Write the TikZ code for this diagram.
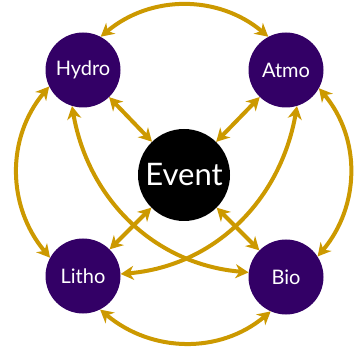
\documentclass[tikz,border=0pt]{standalone}
\usepackage{fontspec}
\setmainfont{Lato}
\usetikzlibrary{shapes.geometric, arrows.meta}
\definecolor{gold}{RGB}{204,153,0}
\definecolor{grape}{RGB}{51,0,102}
\tikzstyle{sphere} = [circle, minimum size=75pt, inner sep=0pt, fill=grape, text=white, font=\fontsize{20}{22}\selectfont]
\tikzstyle{hub} = [circle, minimum size=92pt, inner sep=0pt, fill=black, text=white, font=\fontsize{31}{34}\selectfont]
\tikzstyle{link} = [draw=gold, line width=4pt, {Stealth[length=13pt,width=14pt,inset=4pt]}-{Stealth[length=13pt,width=14pt,inset=4pt]}]

\begin{document}
\begin{tikzpicture}[x=1pt, y=1pt]
        \useasboundingbox (0,0) rectangle (357,349);
        % Nodes
        \node (event) [hub] at (184,174) {Event};
        \node (hydro) [sphere] at (83,279) {Hydro};
        \node (atmo) [sphere] at (286,279) {Atmo};
        \node (litho) [sphere] at (83,73) {Litho};
        \node (bio) [sphere] at (286,72) {Bio};

        % Arrows
        \draw [link] (hydro.62) to[out=40, in=140] (atmo.118);
        \draw [link] (litho.-63) to[out=-40, in=-140] (bio.-114);
        \draw [link] (hydro.206) to[out=230, in=130] (litho.151);
        \draw [link] (atmo.-29) to[out=-50, in=50] (bio.33);
        \draw [link] (hydro.253) to[out=-80, in=175] (bio.173);
        \draw [link] (atmo.-73) to[out=-100, in=5] (litho.3);
        \draw [link] (hydro) -- (event);
        \draw [link] (atmo) -- (event);
        \draw [link] (event) -- (litho);
        \draw [link] (event) -- (bio);
    \end{tikzpicture}
\end{document}
